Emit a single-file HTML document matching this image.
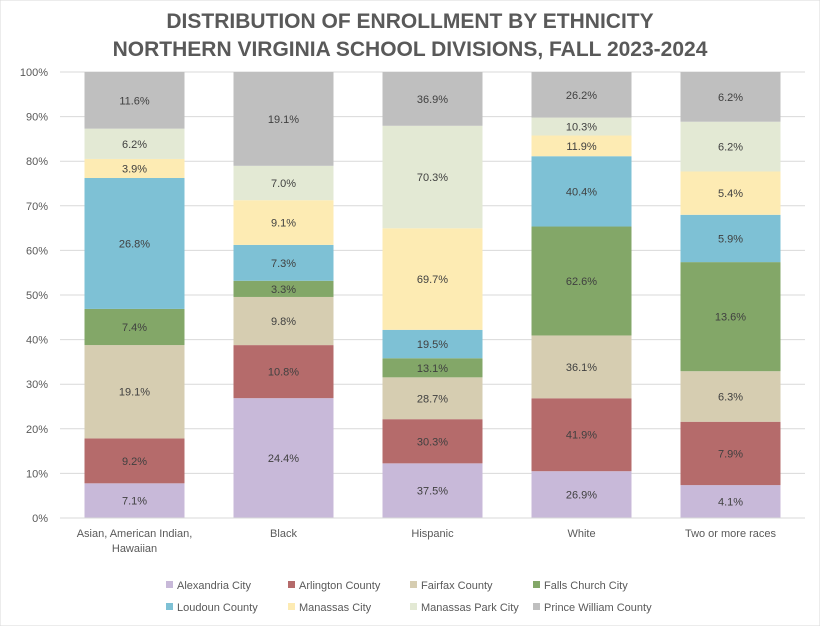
<!DOCTYPE html>
<html><head><meta charset="utf-8"><style>
body{margin:0;background:#fff;font-family:"Liberation Sans",sans-serif;}
svg text{font-family:"Liberation Sans",sans-serif;}
</style></head><body>
<svg id="c" width="820" height="626" viewBox="0 0 820 626">
<rect x="0" y="0" width="820" height="626" fill="#fff" stroke="#d9d9d9"/>
<text x="410" y="28" text-anchor="middle" font-size="21" font-weight="bold" fill="#595959">DISTRIBUTION OF ENROLLMENT BY ETHNICITY</text>
<text x="410" y="56" text-anchor="middle" font-size="21" font-weight="bold" fill="#595959">NORTHERN VIRGINIA SCHOOL DIVISIONS, FALL 2023-2024</text>
<g id="grid"></g><g id="bars"></g><g id="legend"></g>
</svg>
<script>
const categories=["Asian, American Indian, Hawaiian","Black","Hispanic","White","Two or more races"];
const seriesNames=["Alexandria City","Arlington County","Fairfax County","Falls Church City","Loudoun County","Manassas City","Manassas Park City","Prince William County"];
const alexandria=[7.1,24.4,37.5,26.9,4.1];
const arlington=[9.2,10.8,30.3,41.9,7.9];
const fairfax=[19.1,9.8,28.7,36.1,6.3];
const fallsChurch=[7.4,3.3,13.1,62.6,13.6];
const loudoun=[26.8,7.3,19.5,40.4,5.9];
const manassas=[3.9,9.1,69.7,11.9,5.4];
const manassasPark=[6.2,7.0,70.3,10.3,6.2];
const princeWilliam=[11.6,19.1,36.9,26.2,6.2];
const yTicks=["0%","10%","20%","30%","40%","50%","60%","70%","80%","90%","100%"];
const series=[alexandria,arlington,fairfax,fallsChurch,loudoun,manassas,manassasPark,princeWilliam];
const colors=["#c8b9d9","#b56b6b","#d6cdb1","#83a768","#7ec1d5","#fdebb3","#e3e9d4","#bfbfbf"];
const NS="http://www.w3.org/2000/svg";
const X0=60,X1=805,Y0=518,Y1=72;
const y=p=>Y0-(Y1-Y0)*-1*p/100;
const yy=p=>Y0-(Y0-Y1)*p/100;
const band=(X1-X0)/categories.length;
const xc=i=>X0+band*(i+0.5);
function mk(tag,attrs,parent){const e=document.createElementNS(NS,tag);for(const k in attrs)e.setAttribute(k,attrs[k]);parent.appendChild(e);return e;}
const grid=document.getElementById('grid');
yTicks.forEach((t,i)=>{
 const l=mk('line',{x1:X0,x2:X1,y1:yy(i*10),y2:yy(i*10),stroke:'#d9d9d9'},grid);
 
 
 const tx=mk('text',{x:48,y:yy(i*10)+4,'text-anchor':'end','font-size':11,fill:'#595959'},grid);
 tx.textContent=t;
 
 
});
const bars=document.getElementById('bars');
categories.forEach((c,i)=>{
 let sum=0;series.forEach(s=>sum+=s[i]);
 let cum=0;
 series.forEach((s,j)=>{
  const v=s[i];const p0=cum/sum*100;cum+=v;const p1=cum/sum*100;
  const r=mk('rect',{x:xc(i)-50,width:100,y:yy(p1),height:yy(p0)-yy(p1),fill:colors[j]},bars);
  
  
  const t=mk('text',{x:xc(i),y:(yy(p0)+yy(p1))/2+4,'text-anchor':'middle','font-size':11,fill:'#404040'},bars);
  t.textContent=v.toFixed(1)+'%';
  
  
 });
 const lines=c==="Asian, American Indian, Hawaiian"?["Asian, American Indian,","Hawaiian"]:[c];
 lines.forEach((ln,k)=>{
  const t=mk('text',{x:xc(i),y:537+k*15,'text-anchor':'middle','font-size':11,fill:'#595959'},bars);
  t.textContent=ln;
  
  
 });
});
const ax=mk('line',{x1:X0,x2:X1,y1:Y0,y2:Y0,stroke:'#d9d9d9'},bars);


const leg=document.getElementById('legend');
const lx=[166,288,410,533];
seriesNames.forEach((n,j)=>{
 const x=lx[j%4],yv=j<4?585:607;
 const r=mk('rect',{x:x,y:yv-4,width:7,height:7,fill:colors[j]},leg);
 
 
 const t=mk('text',{x:x+11,y:yv+4,'font-size':11,fill:'#595959'},leg);
 t.textContent=n;
 
 
});
</script>
</body></html>
